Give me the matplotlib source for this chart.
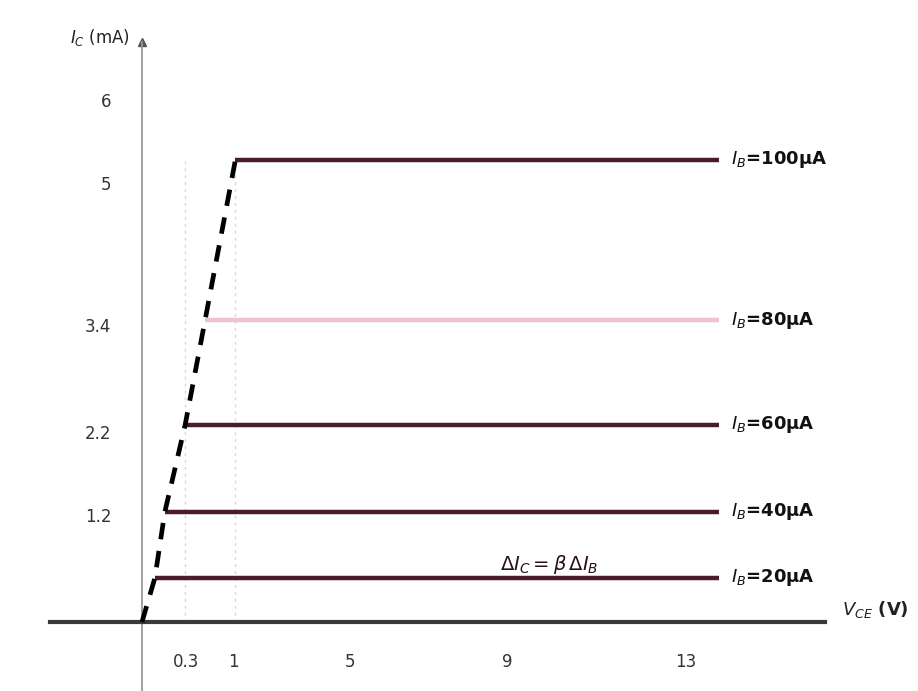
import matplotlib
matplotlib.use("Agg")
import matplotlib.pyplot as plt

# 输出特性曲线数据 (示意)
ib_labels = ["$I_B$=100μA", "$I_B$=80μA", "$I_B$=60μA", "$I_B$=40μA", "$I_B$=20μA"]
ic_levels = [5.25, 3.43, 2.24, 1.25, 0.50]        # mA
knee_vce = [2.25, 1.52, 1.04, 0.55, 0.31]         # V, 饱和区拐点
vce_end = 13.9
line_colors = ["#4a1c28", "#efc3cb", "#4a1c28", "#4a1c28", "#4a1c28"]

x_ticks = [1.05, 2.2, 5, 8.8, 13.1]
x_ticklabels = ["0.3", "1", "5", "9", "13"]
y_ticks = [5.93, 4.99, 3.375, 2.16, 1.22]
y_ticklabels = ["6", "5", "3.4", "2.2", "1.2"]

fig = plt.figure(figsize=(9.18, 6.91), dpi=100)
ax = fig.add_axes([0, 0, 1, 1])
px_x, px_y = 41.5, 88.0
ax.set_xlim(-142 / px_x, 776 / px_x)
ax.set_ylim(-69 / px_y, 622 / px_y)

# 放大区水平线
for lvl, kv, c in zip(ic_levels, knee_vce, line_colors):
    ax.plot([kv, vce_end], [lvl, lvl], color=c, lw=3.2, solid_capstyle="butt", zorder=3)
for lvl, lab in zip(ic_levels, ib_labels):
    ax.text(vce_end + 0.3, lvl, lab, ha="left", va="center", fontsize=13,
            fontweight="bold", color="#111111")

# 饱和区边界 (虚线)
ax.plot([0] + knee_vce[::-1], [0] + ic_levels[::-1], color="black", lw=3.4,
        ls=(0, (3.5, 2.5)), zorder=4)

# 淡红色辅助竖线
for xv in [knee_vce[2], knee_vce[0]]:
    ax.plot([xv, xv], [0, ic_levels[0]], color="#f3c9d0", lw=1, ls=(0, (2, 3)), zorder=1)

ax.text(9.8, ic_levels[-1] + 0.02, "$\\Delta I_C=\\beta\\,\\Delta I_B$", ha="center",
        va="bottom", fontsize=14, fontweight="bold", color="#2a0f16")

# 坐标轴
for s in ["top", "right"]:
    ax.spines[s].set_visible(False)
ax.spines["left"].set_position(("data", 0))
ax.spines["bottom"].set_position(("data", 0))
ax.spines["left"].set_color("#9a9a9a")
ax.spines["left"].set_linewidth(1.3)
ax.spines["left"].set_bounds(-69 / px_y, 580 / px_y)
ax.spines["bottom"].set_color("#3a3a3a")
ax.spines["bottom"].set_linewidth(3)
ax.spines["bottom"].set_bounds(-92 / px_x, 683 / px_x)
ax.plot(0, 580 / px_y, marker="^", color="#555555", ms=6, clip_on=False)

ax.set_xticks(x_ticks)
ax.set_xticklabels(x_ticklabels, fontsize=12, color="#333333")
ax.set_yticks(y_ticks)
ax.set_yticklabels(y_ticklabels, fontsize=12, color="#333333")
ax.tick_params(axis="x", length=0, pad=22)
ax.tick_params(axis="y", length=0, pad=22)

ax.text(-0.3, 585 / px_y, "$I_C$ (mA)", ha="right", va="center", fontsize=12, color="#222222")
ax.text(700 / px_x, 12 / px_y, "$V_{CE}$ (V)", ha="left", va="center", fontsize=13,
        fontweight="bold", color="#222222")

fig.savefig("out.png", dpi=100)
